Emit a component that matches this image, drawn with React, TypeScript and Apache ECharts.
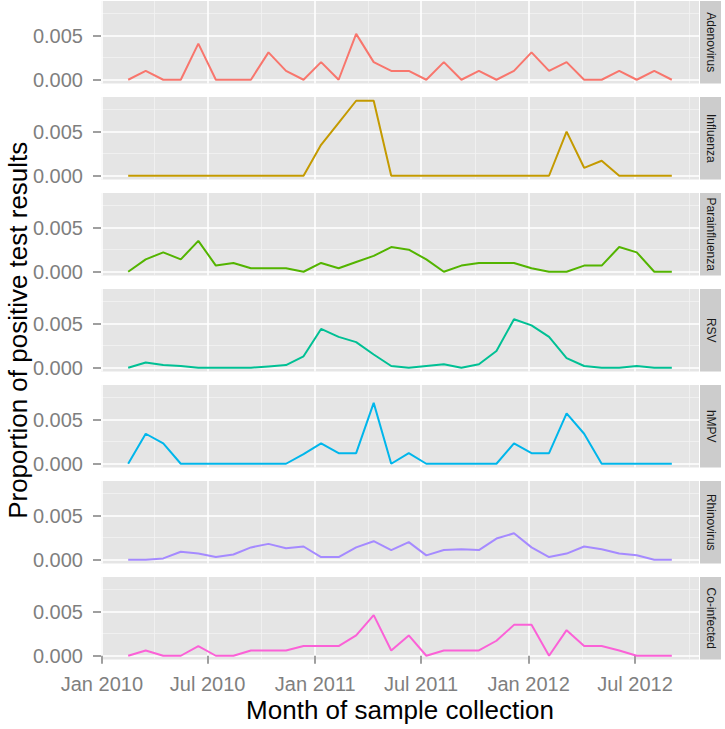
import React, { useEffect, useRef } from "react";
import * as echarts from "echarts";

// Sample dates (one point roughly every 30 days)
const dates = [
  "2010-02-15", "2010-03-17", "2010-04-16", "2010-05-16", "2010-06-15", "2010-07-15",
  "2010-08-14", "2010-09-13", "2010-10-13", "2010-11-12", "2010-12-12", "2011-01-11",
  "2011-02-10", "2011-03-12", "2011-04-11", "2011-05-11", "2011-06-10", "2011-07-10",
  "2011-08-09", "2011-09-08", "2011-10-08", "2011-11-07", "2011-12-07", "2012-01-06",
  "2012-02-05", "2012-03-06", "2012-04-05", "2012-05-05", "2012-06-04", "2012-07-04",
  "2012-08-03", "2012-09-02",
];

const panels = ["Adenovirus", "Influenza", "Parainfluenza", "RSV", "hMPV", "Rhinovirus", "Co-infected"];
const colors = ["#F8766D", "#C49A00", "#53B400", "#00C094", "#00B6EB", "#A58AFF", "#FB61D7"];

const adenovirus = [0, 0.001, 0, 0, 0.0041, 0, 0, 0, 0.0031, 0.001, 0, 0.002, 0, 0.0052, 0.002, 0.001,
  0.001, 0, 0.002, 0, 0.001, 0, 0.001, 0.0031, 0.001, 0.002, 0, 0, 0.001, 0, 0.001, 0];
const influenza = [0, 0, 0, 0, 0, 0, 0, 0, 0, 0, 0, 0.0035, 0.006, 0.0085, 0.0085, 0,
  0, 0, 0, 0, 0, 0, 0, 0, 0, 0.005, 0.0009, 0.0017, 0, 0, 0, 0];
const parainfluenza = [0, 0.0014, 0.0022, 0.0014, 0.0035, 0.0007, 0.001, 0.0004, 0.0004, 0.0004, 0, 0.001, 0.0004, 0.0011, 0.0018, 0.0028,
  0.0025, 0.0014, 0, 0.0007, 0.001, 0.001, 0.001, 0.0004, 0, 0, 0.0007, 0.0007, 0.0028, 0.0022, 0, 0];
const rsv = [0, 0.0006, 0.0003, 0.0002, 0, 0, 0, 0, 0.00015, 0.0003, 0.0013, 0.0044, 0.0035, 0.0029, 0.0015, 0.0002,
  0, 0.0002, 0.0004, 0, 0.0004, 0.0019, 0.0055, 0.0048, 0.0035, 0.0011, 0.0002, 0, 0, 0.0002, 0, 0];
const hmpv = [0, 0.0034, 0.0023, 0, 0, 0, 0, 0, 0, 0, 0.0011, 0.0023, 0.0012, 0.0012, 0.0069, 0,
  0.0012, 0, 0, 0, 0, 0, 0.0023, 0.0012, 0.0012, 0.0057, 0.0034, 0, 0, 0, 0, 0];
const rhinovirus = [0, 0, 0.00015, 0.0009, 0.0007, 0.0003, 0.0006, 0.0014, 0.0018, 0.0013, 0.0015, 0.0003, 0.0003, 0.0014, 0.0021, 0.0011,
  0.002, 0.0005, 0.0011, 0.0012, 0.0011, 0.0024, 0.003, 0.0014, 0.0003, 0.0007, 0.0015, 0.0012, 0.0007, 0.0005, 0, 0];
const coinfected = [0, 0.0006, 0, 0, 0.0011, 0, 0, 0.0006, 0.0006, 0.0006, 0.0011, 0.0011, 0.0011, 0.0023, 0.0046, 0.0006,
  0.0023, 0, 0.0006, 0.0006, 0.0006, 0.0017, 0.0035, 0.0035, 0, 0.0029, 0.0011, 0.0011, 0.0006, 0, 0, 0];

const seriesValues = [adenovirus, influenza, parainfluenza, rsv, hmpv, rhinovirus, coinfected];

const xTickDates = ["2010-01-01", "2010-07-01", "2011-01-01", "2011-07-01", "2012-01-01", "2012-07-01"];
const xTickLabels = ["Jan 2010", "Jul 2010", "Jan 2011", "Jul 2011", "Jan 2012", "Jul 2012"];
const xMinorDates = ["2010-04-01", "2010-10-01", "2011-04-01", "2011-10-01", "2012-04-01", "2012-10-01"];
const yTicks = [0, 0.005];
const yTickLabels = ["0.000", "0.005"];
const yMinorTicks = [0.0025, 0.0075];

const toMs = (d: string) => {
  const [y, m, day] = d.split("-").map(Number);
  return Date.UTC(y, m - 1, day);
};

const FONT = "Liberation Sans, Arial, Helvetica, sans-serif";

export default function App() {
  const ref = useRef<HTMLDivElement>(null);

  useEffect(() => {
    if (!ref.current) return;
    const chart = echarts.init(ref.current, undefined, { renderer: "svg" });

    const xs = dates.map(toMs);
    const xRange = xs[xs.length - 1] - xs[0];
    const xMin = xs[0] - 0.05 * xRange;
    const xMax = xs[xs.length - 1] + 0.05 * xRange;
    const allVals = seriesValues.flat();
    const vMax = Math.max(...allVals);
    const vMin = Math.min(...allVals);
    const yMin = vMin - 0.05 * (vMax - vMin);
    const yMax = vMax + 0.05 * (vMax - vMin);

    const xTickMs = xTickDates.map(toMs);
    const xMinorMs = xMinorDates.map(toMs);

    const L = 101;
    const W = 598;
    const H = 82.5;
    const PITCH = 96;
    const TOP0 = 1;
    const n = panels.length;

    const grids: any[] = [];
    const xAxes: any[] = [];
    const yAxes: any[] = [];
    const series: any[] = [];
    const graphics: any[] = [];

    for (let i = 0; i < n; i++) {
      const top = TOP0 + PITCH * i;
      const last = i === n - 1;
      grids.push({
        left: L, top, width: W, height: H,
        show: true, backgroundColor: "#E5E5E5", borderWidth: 0,
        containLabel: false, outerBoundsMode: "none",
      });
      // major x axis
      xAxes.push({
        type: "value", gridIndex: i, min: xMin, max: xMax, z: 2,
        axisLine: { show: false },
        axisTick: {
          show: last, customValues: xTickMs, length: 8,
          lineStyle: { color: "#7F7F7F", width: 1.5 },
        },
        axisLabel: {
          show: last, customValues: xTickMs, margin: 14,
          fontSize: 20, color: "#7F7F7F", fontFamily: FONT,
          formatter: (v: number) => {
            const idx = xTickMs.indexOf(v);
            return idx >= 0 ? xTickLabels[idx] : "";
          },
        },
        splitLine: { show: true, customValues: xTickMs, lineStyle: { color: "#FFFFFF", width: 1.6 } },
        name: last ? "Month of sample collection" : "",
        nameLocation: "middle", nameGap: 37,
        nameTextStyle: { fontSize: 26, color: "#000000", fontFamily: FONT },
      });
      // minor x axis
      xAxes.push({
        type: "value", gridIndex: i, min: xMin, max: xMax, z: 1,
        axisLine: { show: false }, axisTick: { show: false, customValues: xMinorMs },
        axisLabel: { show: false, customValues: xMinorMs },
        splitLine: { show: true, customValues: xMinorMs, lineStyle: { color: "#F2F2F2", width: 0.8 } },
      });
      // major y axis
      yAxes.push({
        type: "value", gridIndex: i, min: yMin, max: yMax, z: 2,
        axisLine: { show: false },
        axisTick: { show: true, customValues: yTicks, length: 8, lineStyle: { color: "#7F7F7F", width: 1.5 } },
        axisLabel: {
          show: true, customValues: yTicks, margin: 18,
          fontSize: 20, color: "#7F7F7F", fontFamily: FONT,
          formatter: (v: number) => {
            const idx = yTicks.findIndex((t) => Math.abs(t - v) < 1e-9);
            return idx >= 0 ? yTickLabels[idx] : "";
          },
        },
        splitLine: { show: true, customValues: yTicks, lineStyle: { color: "#FFFFFF", width: 1.6 } },
        name: i === 3 ? "Proportion of positive test results" : "",
        nameLocation: "middle", nameGap: 83, nameMoveOverlap: false,
        nameTextStyle: { fontSize: 26, color: "#000000", fontFamily: FONT, verticalAlign: "middle" },
      });
      // minor y axis
      yAxes.push({
        type: "value", gridIndex: i, min: yMin, max: yMax, z: 1,
        axisLine: { show: false }, axisTick: { show: false, customValues: yMinorTicks },
        axisLabel: { show: false, customValues: yMinorTicks },
        splitLine: { show: true, customValues: yMinorTicks, lineStyle: { color: "#F2F2F2", width: 0.8 } },
      });

      series.push({
        type: "line", name: panels[i], xAxisIndex: 2 * i, yAxisIndex: 2 * i, z: 5,
        data: xs.map((x, j) => [x, seriesValues[i][j]]),
        showSymbol: false, symbol: "none",
        lineStyle: { color: colors[i], width: 2 },
        itemStyle: { color: colors[i] },
      });

      graphics.push({
        type: "rect", x: 700, y: top,
        shape: { x: 0, y: 0, width: 21, height: H },
        style: { fill: "#CCCCCC" }, silent: true,
      });
      graphics.push({
        type: "text", x: 710.5, y: top + H / 2, rotation: -Math.PI / 2,
        style: {
          text: panels[i], fontSize: 12, fill: "#1A1A1A", fontFamily: FONT,
          align: "center", verticalAlign: "middle",
        },
        silent: true,
      });
    }

    chart.setOption({
      animation: false,
      backgroundColor: "#FFFFFF",
      grid: grids,
      xAxis: xAxes,
      yAxis: yAxes,
      series,
      graphic: graphics,
    });

    return () => chart.dispose();
  }, []);

  return <div ref={ref} style={{ position: "fixed", left: 0, top: 0, width: 725, height: 729 }} />;
}
